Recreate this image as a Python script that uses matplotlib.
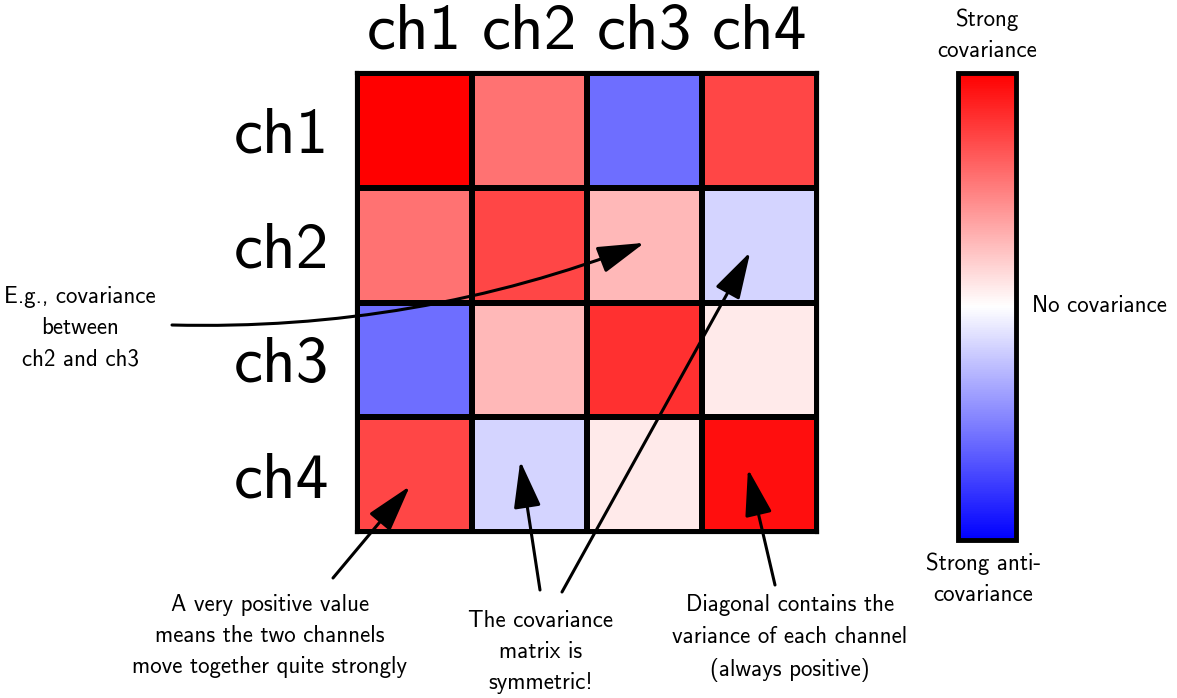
import matplotlib
matplotlib.use("Agg")
import matplotlib.pyplot as plt
import numpy as np

plt.rcParams['font.family'] = ['cmss10', 'DejaVu Sans']
plt.rcParams['axes.formatter.use_mathtext'] = True

channels = ['ch1', 'ch2', 'ch3', 'ch4']
# covariance values, scaled to [-1, 1]
cov = np.array([
    [1.00, 0.55, -0.57, 0.72],
    [0.55, 0.72, 0.28, -0.17],
    [-0.57, 0.28, 0.81, 0.08],
    [0.72, -0.17, 0.08, 0.94],
])

fig = plt.figure(figsize=(11.77, 6.98), dpi=100)
ax = fig.add_axes([0.3033, 0.2378, 0.3908, 0.6576])
mesh = ax.pcolormesh(cov, cmap='bwr', vmin=-1, vmax=1,
                     edgecolors='k', linewidth=3)
ax.set_xlim(0, 4)
ax.set_ylim(4, 0)
ax.set_xticks(np.arange(4) + 0.5)
ax.set_yticks(np.arange(4) + 0.5)
ax.set_xticklabels(channels, fontsize=47)
ax.set_yticklabels(channels, fontsize=47)
ax.xaxis.tick_top()
ax.tick_params(axis='x', length=0, pad=8)
ax.tick_params(axis='y', length=0, pad=20)
for s in ax.spines.values():
    s.set_linewidth(3)

# colorbar
cax = fig.add_axes([0.814, 0.2264, 0.0493, 0.669])
cb = fig.colorbar(mesh, cax=cax)
cb.set_ticks([])
cb.outline.set_linewidth(3.5)

fs = 16.5
ls = 1.55
fig.text(987 / 1177, 1 - 35 / 698, 'Strong\ncovariance', ha='center', va='center',
         fontsize=fs, linespacing=ls)
fig.text(1032 / 1177, 1 - 306 / 698, 'No covariance', ha='left', va='center', fontsize=fs)
fig.text(983 / 1177, 1 - 579 / 698, 'Strong anti-\ncovariance', ha='center', va='center',
         fontsize=fs, linespacing=ls)

# annotations
notes = [
    ('E.g., covariance\nbetween\nch2 and ch3', (80, 328)),
    ('A very positive value\nmeans the two channels\nmove together quite strongly', (270, 636)),
    ('The covariance\nmatrix is\nsymmetric!', (541, 652)),
    ('Diagonal contains the\nvariance of each channel\n(always positive)', (790, 638)),
]
for txt, (px, py) in notes:
    fig.text(px / 1177, 1 - py / 698, txt, ha='center', va='center',
             fontsize=fs, linespacing=ls)

arrows = [
    # (tip in cell coords, start in pixels, curvature)
    ((2.5, 1.48), (172, 325), 0.1),
    ((0.46, 3.6), (333, 578), 0.0),
    ((1.42, 3.38), (540, 590), 0.0),
    ((3.42, 1.56), (562, 592), 0.0),
    ((3.40, 3.45), (775, 585), 0.0),
]
for tip, (sx, sy), rad in arrows:
    ax.annotate('', xy=tip, xycoords='data',
                xytext=(sx / 1177, 1 - sy / 698), textcoords='figure fraction',
                annotation_clip=False,
                arrowprops=dict(arrowstyle='-|>,head_length=1.45,head_width=0.42',
                                mutation_scale=20, color='k', lw=2.2,
                                shrinkA=0, shrinkB=0,
                                connectionstyle='arc3,rad=%g' % rad))

plt.savefig('out.png', dpi=100)
